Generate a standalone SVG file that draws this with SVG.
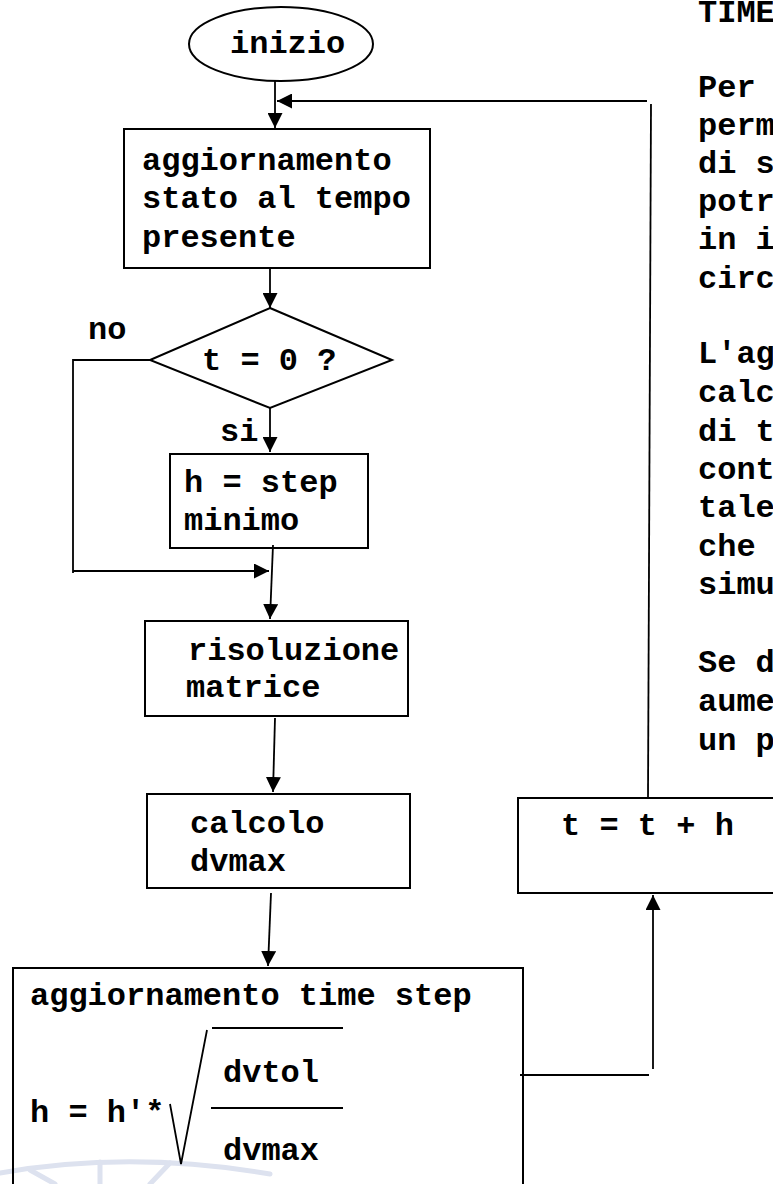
<svg xmlns="http://www.w3.org/2000/svg" width="773" height="1184" viewBox="0 0 773 1184">
<style>
  text { font-family: "Liberation Mono", "Courier New", monospace; font-weight: bold; font-size: 32px; fill: #000; }
  .shape { fill: none; stroke: #000; stroke-width: 2; }
  .wire { fill: none; stroke: #000; stroke-width: 1.8; }
  .wm { fill: none; stroke: #dde2ef; stroke-width: 5; stroke-linecap: round; }
</style>
<defs>
  <marker id="arrow" viewBox="0 0 15 15" refX="15" refY="7.5" markerWidth="15" markerHeight="15" markerUnits="userSpaceOnUse" orient="auto">
    <path d="M0,0 L15,7.5 L0,15 z" fill="#000"/>
  </marker>
</defs>
<rect width="773" height="1184" fill="#fff"/>

<g id="watermark">
  <path class="wm" d="M0,1173 Q130,1150 270,1174"/>
  <path class="wm" d="M100,1162 L100,1184"/>
  <path class="wm" d="M170,1163 L150,1184"/>
  <path class="wm" d="M30,1170 L55,1184"/>
</g>

<g id="connectors">
  <line class="wire" x1="275" y1="81" x2="275" y2="128" marker-end="url(#arrow)"/>
  <line class="wire" x1="647" y1="101" x2="277" y2="101" marker-end="url(#arrow)"/>
  <line class="wire" x1="651" y1="104" x2="648" y2="797"/>
  <line class="wire" x1="270" y1="268" x2="270" y2="308" marker-end="url(#arrow)"/>
  <polyline class="wire" points="150,360 73,360 73,573"/>
  <line class="wire" x1="73" y1="571" x2="269" y2="571" marker-end="url(#arrow)"/>
  <line class="wire" x1="270" y1="408" x2="270" y2="452" marker-end="url(#arrow)"/>
  <line class="wire" x1="273" y1="545" x2="270" y2="619" marker-end="url(#arrow)"/>
  <line class="wire" x1="275" y1="718" x2="273" y2="792" marker-end="url(#arrow)"/>
  <line class="wire" x1="271" y1="893" x2="268" y2="966" marker-end="url(#arrow)"/>
  <line class="wire" x1="520" y1="1075" x2="649" y2="1075"/>
  <line class="wire" x1="653" y1="1069" x2="653" y2="895" marker-end="url(#arrow)"/>
  <text x="88" y="339">no</text>
  <text x="220" y="441">si</text>
</g>

<g id="inizio">
  <ellipse class="shape" cx="281" cy="44" rx="92" ry="37"/>
  <text x="230" y="53">inizio</text>
</g>

<g id="aggiornamento-stato">
  <rect class="shape" x="124" y="129" width="306" height="139"/>
  <text x="142" y="170">aggiornamento</text>
  <text x="142" y="208">stato al tempo</text>
  <text x="142" y="247">presente</text>
</g>

<g id="decisione">
  <polygon class="shape" points="270,308 392,360 270,408 150,360"/>
  <text x="202" y="370">t = 0 ?</text>
</g>

<g id="step-minimo">
  <rect class="shape" x="170" y="454" width="198" height="94"/>
  <text x="184" y="492">h = step</text>
  <text x="184" y="530">minimo</text>
</g>

<g id="risoluzione">
  <rect class="shape" x="145" y="621" width="263" height="95"/>
  <text x="188" y="660">risoluzione</text>
  <text x="186" y="697">matrice</text>
</g>

<g id="calcolo">
  <rect class="shape" x="147" y="794" width="263" height="94"/>
  <text x="190" y="833">calcolo</text>
  <text x="190" y="871">dvmax</text>
</g>

<g id="aggiornamento-time-step">
  <rect class="shape" x="13" y="968" width="510" height="230"/>
  <text x="30" y="1005">aggiornamento time step</text>
  <text x="30" y="1122">h = h'*</text>
  <polyline class="wire" points="170,1104 181,1164 207,1030"/>
  <line class="wire" x1="212" y1="1028" x2="343" y2="1028"/>
  <text x="223" y="1082">dvtol</text>
  <line class="wire" x1="211" y1="1108" x2="343" y2="1108"/>
  <text x="223" y="1160">dvmax</text>
</g>

<g id="incremento">
  <rect class="shape" x="518" y="798" width="270" height="95"/>
  <text x="561" y="835">t = t + h</text>
</g>

<g id="nota">
  <text x="698" y="22">TIME</text>
  <text x="698" y="97">Per</text>
  <text x="698" y="135">perm</text>
  <text x="698" y="173">di s</text>
  <text x="698" y="211">potr</text>
  <text x="698" y="249">in i</text>
  <text x="698" y="288">circ</text>
  <text x="698" y="363">L'ag</text>
  <text x="698" y="402">calc</text>
  <text x="698" y="441">di t</text>
  <text x="698" y="479">cont</text>
  <text x="698" y="517">tale</text>
  <text x="698" y="556">che</text>
  <text x="698" y="594">simu</text>
  <text x="698" y="672">Se d</text>
  <text x="698" y="711">aume</text>
  <text x="698" y="750">un p</text>
</g>
</svg>
